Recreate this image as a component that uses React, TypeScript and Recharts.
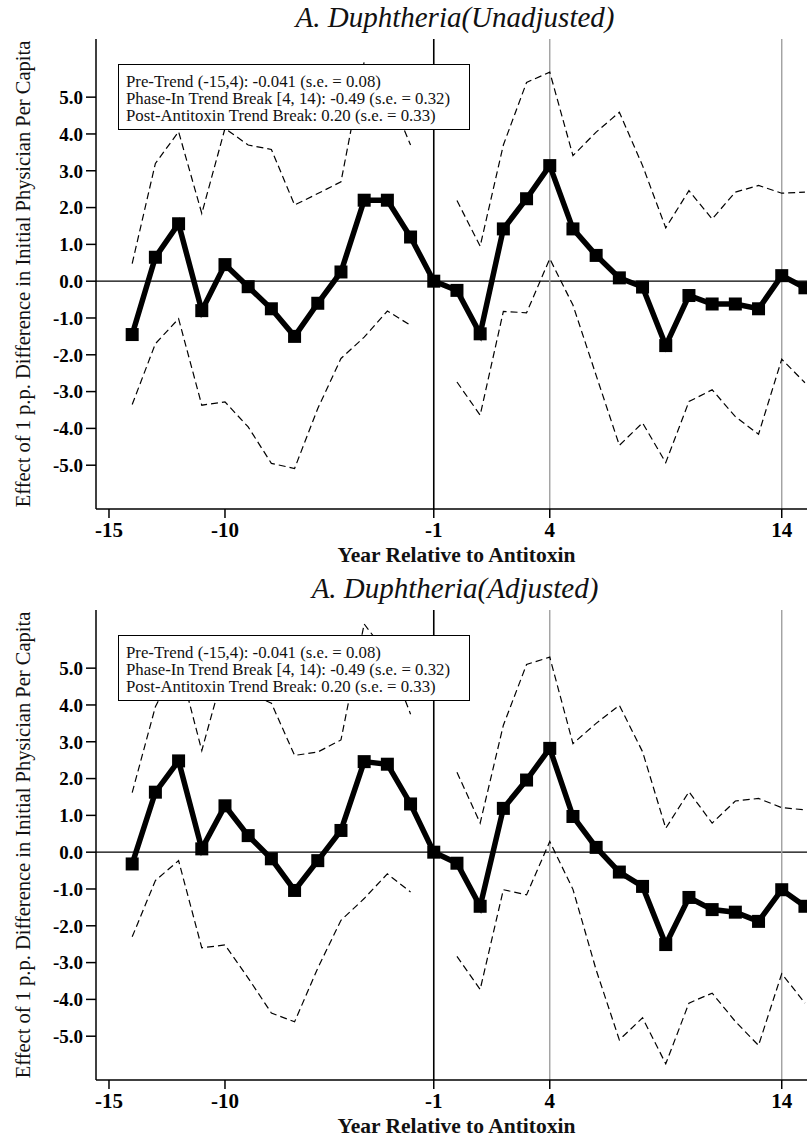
import { Line, LineChart, ReferenceLine, XAxis, YAxis } from "recharts";

const SERIF = '"Liberation Serif", "Times New Roman", Times, serif';

// event years relative to antitoxin (-1 is the omitted year)
const YEARS = [
  -14, -13, -12, -11, -10, -9, -8, -7, -6, -5, -4, -3, -2, -1, 0, 1, 2, 3, 4,
  5, 6, 7, 8, 9, 10, 11, 12, 13, 14, 15,
];

// panel 1: unadjusted
const EST_UNADJ = [
  -1.45, 0.65, 1.56, -0.8, 0.45, -0.15, -0.75, -1.5, -0.6, 0.25, 2.2, 2.2, 1.2,
  0, -0.25, -1.43, 1.42, 2.24, 3.14, 1.42, 0.7, 0.09, -0.16, -1.75, -0.39,
  -0.62, -0.62, -0.75, 0.15, -0.18,
];
const UPPER_UNADJ = [
  0.48, 3.2, 4.06, 1.84, 4.15, 3.7, 3.58, 2.07, 2.38, 2.7, 5.96, 5.2, 3.7, null,
  2.19, 0.95, 3.7, 5.4, 5.68, 3.41, 4.05, 4.59, 3.14, 1.45, 2.46, 1.69, 2.42,
  2.6, 2.39, 2.42,
];
const LOWER_UNADJ = [
  -3.35, -1.7, -1.02, -3.37, -3.28, -3.96, -4.95, -5.09, -3.46, -2.1, -1.52,
  -0.81, -1.2, null, -2.74, -3.64, -0.82, -0.86, 0.61, -0.65, -2.56, -4.46,
  -3.85, -4.93, -3.27, -2.95, -3.68, -4.16, -2.12, -2.76,
];

// panel 2: adjusted
const EST_ADJ = [
  -0.32, 1.63, 2.48, 0.09, 1.26, 0.45, -0.18, -1.04, -0.23, 0.59, 2.46, 2.39,
  1.31, 0, -0.3, -1.47, 1.19, 1.96, 2.82, 0.97, 0.13, -0.54, -0.93, -2.51,
  -1.23, -1.56, -1.63, -1.88, -1.02, -1.47,
];
const UPPER_ADJ = [
  1.62, 3.95, 5.19, 2.76, 5.04, 4.32, 4.05, 2.63, 2.72, 3.05, 6.2, 5.37, 3.75,
  null, 2.17, 0.79, 3.45, 5.1, 5.3, 2.95, 3.5, 3.99, 2.73, 0.65, 1.64, 0.79,
  1.39, 1.46, 1.21, 1.15,
];
const LOWER_ADJ = [
  -2.3, -0.77, -0.23, -2.6, -2.52, -3.42, -4.37, -4.61, -3.15, -1.85, -1.26,
  -0.59, -1.08, null, -2.83, -3.73, -1.02, -1.16, 0.29, -1.01, -3.2, -5.1,
  -4.5, -5.75, -4.1, -3.83, -4.6, -5.25, -3.3, -4.1,
];

const X_TICKS = [-15, -10, -1, 4, 14];
const Y_TICKS = [-5, -4, -3, -2, -1, 0, 1, 2, 3, 4, 5];

const TREND_NOTES = [
  "Pre-Trend (-15,4): -0.041 (s.e. = 0.08)",
  "Phase-In Trend Break [4, 14): -0.49 (s.e. = 0.32)",
  "Post-Antitoxin Trend Break: 0.20 (s.e. = 0.33)",
];

const Y_TITLE = "Effect of 1 p.p. Difference in Initial Physician Per Capita";
const X_TITLE = "Year Relative to Antitoxin";

const PANEL_W = 830;
const PANEL_H = 571;

function SquareDot(props: any) {
  const { cx, cy, index } = props;
  if (cx == null || cy == null) return <g key={index} />;
  return (
    <rect key={index} x={cx - 6.5} y={cy - 6.5} width={13} height={13} fill="#000" />
  );
}

function YTitle(props: any) {
  const vb = props.viewBox;
  const cx = 30;
  const cy = vb.y + vb.height / 2;
  return (
    <text
      x={cx}
      y={cy}
      transform={`rotate(-90 ${cx} ${cy})`}
      textAnchor="middle"
      fill="#111"
      fontFamily={SERIF}
      fontSize={20.5}
    >
      {Y_TITLE}
    </text>
  );
}

function XTitle(props: any) {
  const vb = props.viewBox;
  return (
    <text
      x={vb.x + vb.width / 2}
      y={vb.y + 53}
      textAnchor="middle"
      fill="#111"
      fontFamily={SERIF}
      fontSize={21.5}
      fontWeight={700}
    >
      {X_TITLE}
    </text>
  );
}

interface PanelProps {
  title: string;
  top: number;
  est: number[];
  upper: (number | null)[];
  lower: (number | null)[];
}

function Panel({ title, top, est, upper, lower }: PanelProps) {
  const rows = YEARS.map((year, i) => ({
    year,
    est: est[i],
    upper: upper[i],
    lower: lower[i],
  }));

  return (
    <div
      style={{ position: "absolute", left: 0, top, width: PANEL_W, height: PANEL_H }}
    >
      <div
        style={{
          position: "absolute",
          left: 0,
          top: 3,
          width: 910,
          textAlign: "center",
          fontFamily: SERIF,
          fontStyle: "italic",
          fontSize: 29,
          lineHeight: "28px",
          color: "#111",
          whiteSpace: "nowrap",
        }}
      >
        {title}
      </div>
      <LineChart
        width={PANEL_W}
        height={PANEL_H}
        data={rows}
        margin={{ top: 39, right: 13, bottom: 0, left: 0 }}
      >
        <XAxis
          dataKey="year"
          type="number"
          domain={[-15.56, 15.52]}
          allowDataOverflow
          ticks={X_TICKS}
          interval={0}
          height={62}
          tickSize={9}
          tickMargin={4}
          axisLine={{ stroke: "#000", strokeWidth: 1.5 }}
          tickLine={{ stroke: "#000", strokeWidth: 1.5 }}
          tick={{ fill: "#000", fontSize: 21, fontWeight: 700, fontFamily: SERIF }}
          label={XTitle}
        />
        <YAxis
          type="number"
          domain={[-6.19, 6.58]}
          allowDataOverflow
          ticks={Y_TICKS}
          interval={0}
          width={96}
          tickSize={10}
          tickMargin={3}
          tickFormatter={(v: number) => v.toFixed(1)}
          axisLine={{ stroke: "#000", strokeWidth: 1.5 }}
          tickLine={{ stroke: "#000", strokeWidth: 1.5 }}
          tick={{ fill: "#000", fontSize: 19, fontWeight: 700, fontFamily: SERIF }}
          label={YTitle}
        />
        <ReferenceLine y={0} stroke="#000" strokeWidth={1.3} />
        <ReferenceLine x={-1} stroke="#000" strokeWidth={1.6} />
        <ReferenceLine x={4} stroke="#a0a0a0" strokeWidth={1.4} />
        <ReferenceLine x={14} stroke="#a0a0a0" strokeWidth={1.4} />
        <Line
          dataKey="upper"
          stroke="#000"
          strokeWidth={1.2}
          strokeDasharray="7 4"
          dot={false}
          connectNulls={false}
          isAnimationActive={false}
        />
        <Line
          dataKey="lower"
          stroke="#000"
          strokeWidth={1.2}
          strokeDasharray="7 4"
          dot={false}
          connectNulls={false}
          isAnimationActive={false}
        />
        <Line
          dataKey="est"
          stroke="#000"
          strokeWidth={5.5}
          dot={SquareDot}
          activeDot={false}
          isAnimationActive={false}
        />
      </LineChart>
      <div
        style={{
          position: "absolute",
          left: 118,
          top: 64,
          width: 352,
          height: 66,
          boxSizing: "border-box",
          border: "1.5px solid #000",
          background: "#fff",
          paddingLeft: 7,
          paddingTop: 9,
          fontFamily: SERIF,
          fontSize: 16.8,
          lineHeight: "16.8px",
          color: "#111",
          whiteSpace: "nowrap",
        }}
      >
        {TREND_NOTES.map((t) => (
          <div key={t}>{t}</div>
        ))}
      </div>
    </div>
  );
}

export default function App() {
  return (
    <div
      style={{
        position: "absolute",
        left: 0,
        top: 0,
        width: 807,
        height: 1137,
        overflow: "hidden",
        background: "#fff",
      }}
    >
      <Panel
        title="A. Duphtheria(Unadjusted)"
        top={0}
        est={EST_UNADJ}
        upper={UPPER_UNADJ}
        lower={LOWER_UNADJ}
      />
      <Panel
        title="A. Duphtheria(Adjusted)"
        top={571}
        est={EST_ADJ}
        upper={UPPER_ADJ}
        lower={LOWER_ADJ}
      />
    </div>
  );
}
